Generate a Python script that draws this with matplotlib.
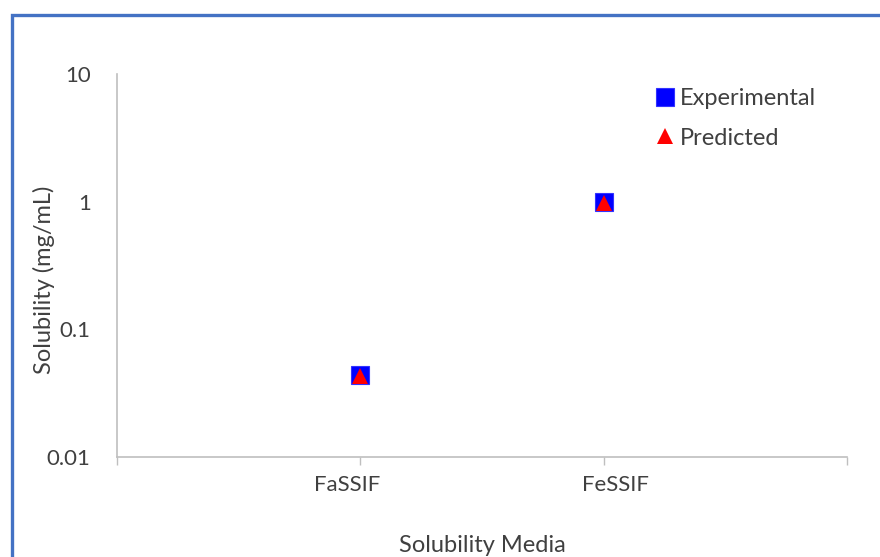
import numpy as np
import matplotlib.pyplot as plt
import matplotlib.transforms as mtransforms
from matplotlib.patches import Rectangle

# ================================ 数据 ================================
media = ['FaSSIF', 'FeSSIF']
experimental = [0.044, 1.0]
predicted = [0.043, 0.98]

# ================================ 绘图 ================================
plt.rcParams['font.family'] = ['Lato', 'DejaVu Sans']
text_color = '#404040'
axis_color = '#BFBFBF'

fig = plt.figure(figsize=(8.8, 5.57), dpi=100)
ax = fig.add_axes([0.133, 0.1795, 0.8295, 0.6876])

# 外框
fig.patches.append(Rectangle((11.5 / 880, -0.1), 1.2, 1.1 - 15 / 557,
                             transform=fig.transFigure, fill=False,
                             edgecolor='#4472C4', linewidth=2.4, zorder=10))

x = np.arange(1, len(media) + 1)
ax.plot(x, experimental, linestyle='none', marker='s', markersize=13,
        color='#0000FF', markeredgecolor='#3333FF', markeredgewidth=0.8,
        label='Experimental', zorder=3)
ax.plot(x, predicted, linestyle='none', marker='^', markersize=12,
        color='#FF0000', markeredgewidth=0, label='Predicted', zorder=4)

# y 轴（对数）
ax.set_yscale('log')
ax.set_ylim(0.01, 10)
ax.set_yticks([0.01, 0.1, 1, 10])
ax.set_yticklabels(['0.01', '0.1', '1', '10'])
ax.yaxis.set_minor_locator(plt.NullLocator())
ax.tick_params(axis='y', length=0, pad=19, labelsize=16, labelcolor=text_color)

# x 轴（分类）
ax.set_xlim(0, len(media) + 1)
ax.set_xticks(np.arange(0, len(media) + 2))
ax.set_xticklabels([''] + media + [''])
ax.tick_params(axis='x', length=6, color=axis_color, width=1, pad=7,
               labelsize=16, labelcolor=text_color)
shifts = [0, -13, 12, 0]
for lab, dx in zip(ax.get_xticklabels(), shifts):
    lab.set_transform(lab.get_transform() +
                      mtransforms.ScaledTranslation(dx / 100, 0, fig.dpi_scale_trans))

for side in ['top', 'right']:
    ax.spines[side].set_visible(False)
for side in ['left', 'bottom']:
    ax.spines[side].set_color(axis_color)
    ax.spines[side].set_linewidth(1.2)

ax.set_xlabel('Solubility Media', fontsize=17, color=text_color)
ax.xaxis.set_label_coords(0.5, -(545 - 457) / 383, transform=ax.transAxes)
ax.xaxis.label.set_va('center')
ax.set_ylabel('Solubility (mg/mL)', fontsize=17, color=text_color)
ax.yaxis.set_label_coords(-(117 - 44) / 730, (457 - 280) / 383)
ax.yaxis.label.set_va('center')

leg = ax.legend(loc='upper left', bbox_to_anchor=(644 / 880, 1 - 76 / 557),
                bbox_transform=fig.transFigure, frameon=False, fontsize=17,
                handlelength=0.8, handletextpad=0.2, labelspacing=0.8,
                borderpad=0, markerscale=0.95, labelcolor=text_color)

fig.savefig('out.png', dpi=100)
